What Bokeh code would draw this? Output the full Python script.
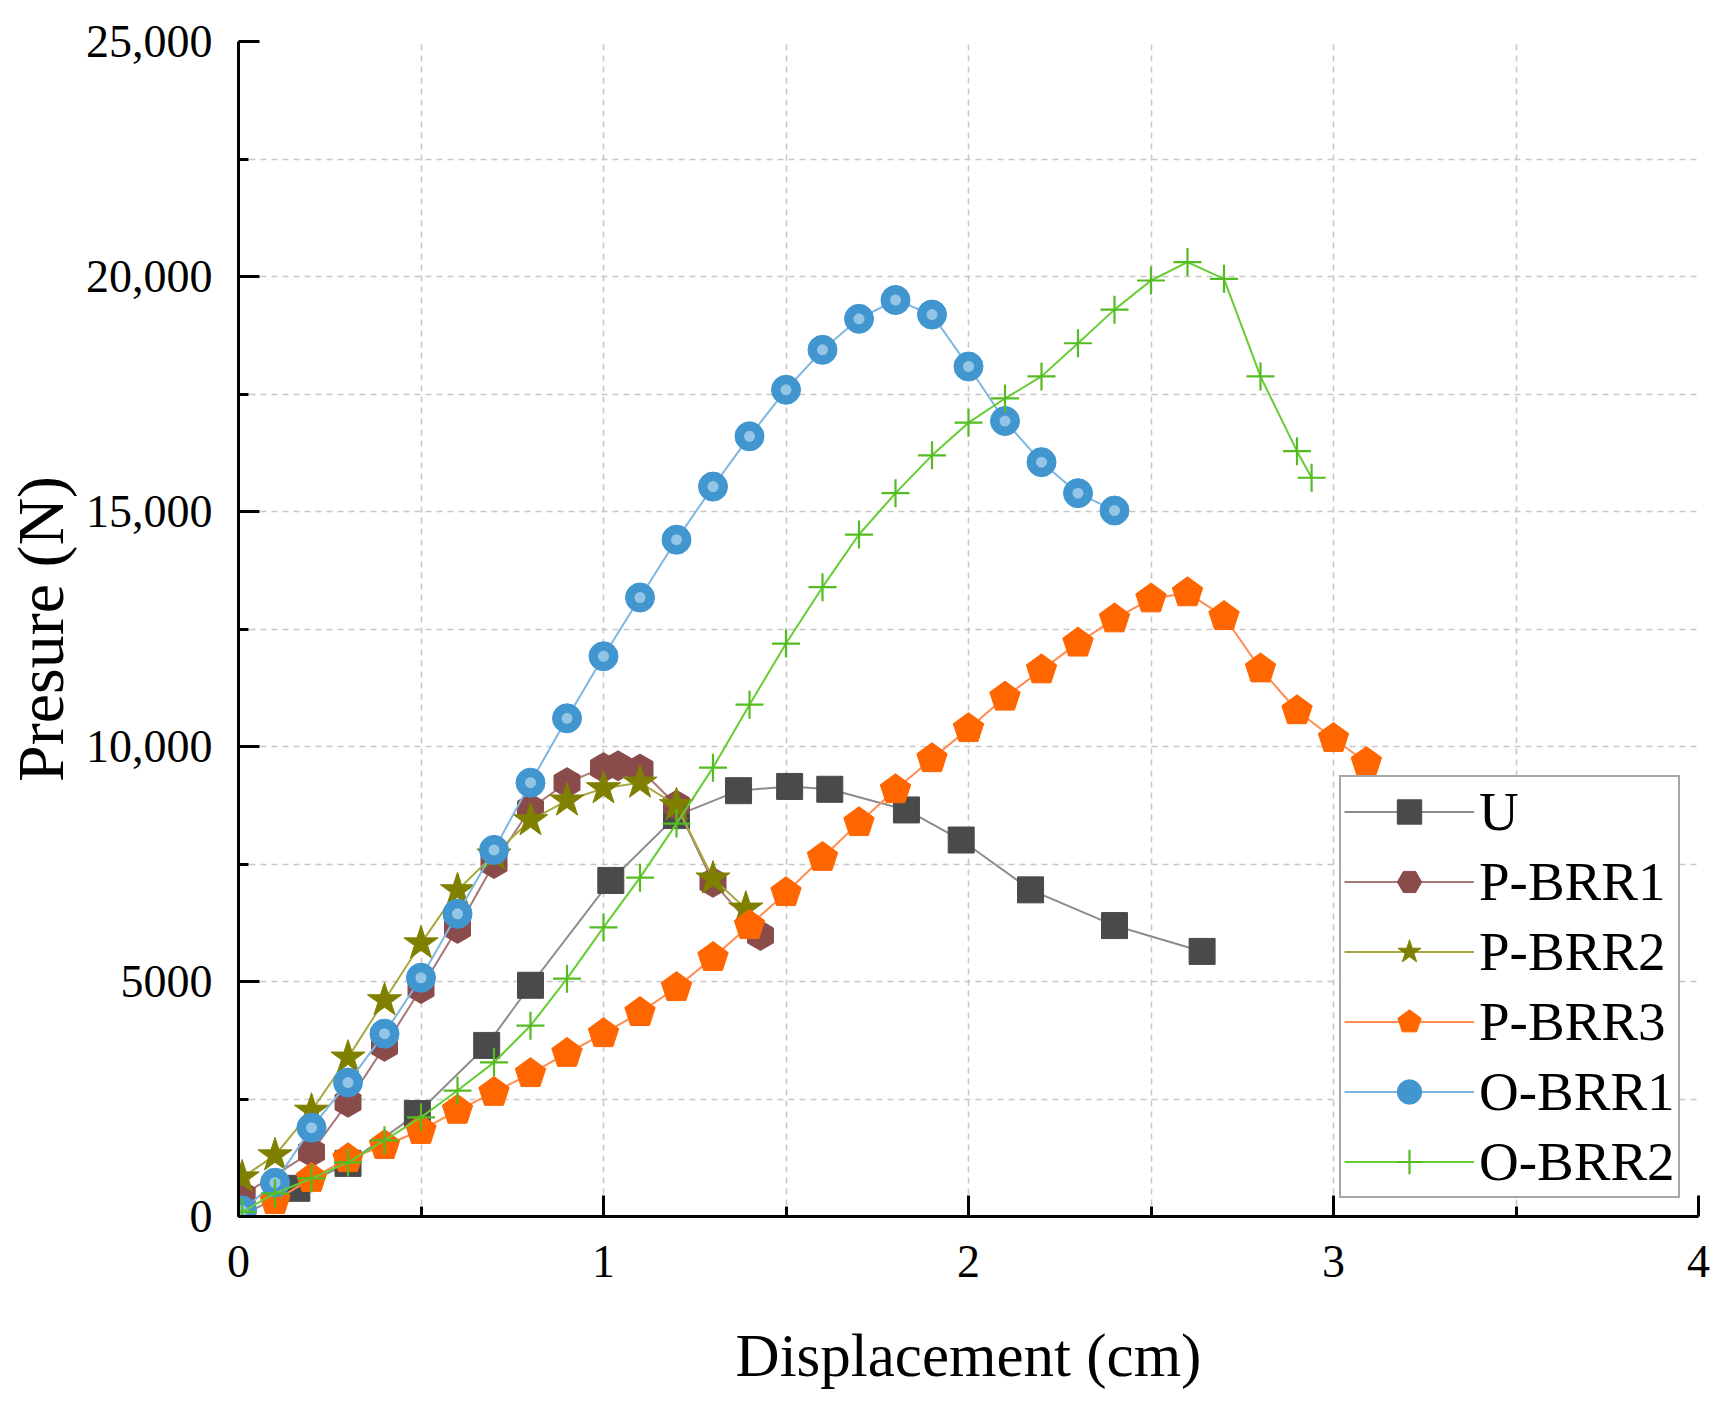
import numpy as np
from bokeh.plotting import figure
from bokeh.models import (FixedTicker, Legend, LegendItem, Range1d)
from bokeh.embed import file_html
from bokeh.resources import INLINE

# ---------------- data ----------------
u_x = [0, 0.16, 0.30, 0.49, 0.68, 0.80, 1.02, 1.20, 1.37, 1.51, 1.62, 1.83, 1.98, 2.17, 2.40, 2.64]
u_y = [0, 600, 1130, 2190, 3640, 4920, 7150, 8530, 9060, 9150, 9090, 8650, 8010, 6950, 6190, 5640]

p1_x = [0.01, 0.2, 0.3, 0.4, 0.5, 0.6, 0.7, 0.8, 0.9, 1.0, 1.04, 1.1, 1.2, 1.3, 1.43]
p1_y = [450, 1370, 2430, 3620, 4850, 6130, 7510, 8680, 9230, 9550, 9590, 9520, 8750, 7110, 5980]

p2_x = [0.01, 0.1, 0.2, 0.3, 0.4, 0.5, 0.6, 0.7, 0.8, 0.9, 1.0, 1.1, 1.2, 1.3, 1.39]
p2_y = [830, 1300, 2250, 3380, 4600, 5810, 6940, 7700, 8430, 8850, 9110, 9230, 8750, 7190, 6550]

p3_x = [0.1, 0.2, 0.3, 0.4, 0.5, 0.6, 0.7, 0.8, 0.9, 1.0, 1.1, 1.2, 1.3, 1.4, 1.5, 1.6,
        1.7, 1.8, 1.9, 2.0, 2.1, 2.2, 2.3, 2.4, 2.5, 2.6, 2.7, 2.8, 2.9, 3.0, 3.09]
p3_y = [340, 810, 1230, 1510, 1830, 2260, 2640, 3040, 3470, 3890, 4340, 4870, 5510, 6190, 6890, 7640,
        8380, 9080, 9740, 10380, 11050, 11630, 12200, 12715, 13140, 13270, 12765, 11650, 10760, 10170, 9660]

o1_x = [0.01, 0.1, 0.2, 0.3, 0.4, 0.5, 0.6, 0.7, 0.8, 0.9, 1.0, 1.1, 1.2, 1.3, 1.4, 1.5,
        1.6, 1.7, 1.8, 1.9, 2.0, 2.1, 2.2, 2.3, 2.4]
o1_y = [130, 720, 1890, 2850, 3890, 5080, 6440, 7800, 9230, 10600, 11920, 13170, 14400, 15530, 16600, 17590,
        18440, 19100, 19500, 19190, 18085, 16925, 16050, 15390, 15020]

o2_x = [0.01, 0.1, 0.2, 0.3, 0.4, 0.5, 0.6, 0.7, 0.8, 0.9, 1.0, 1.1, 1.2, 1.3, 1.4, 1.5,
        1.6, 1.7, 1.8, 1.9, 2.0, 2.1, 2.2, 2.3, 2.4, 2.5, 2.6, 2.7, 2.8, 2.9, 2.94]
o2_y = [100, 490, 810, 1150, 1620, 2110, 2680, 3280, 4060, 5060, 6150, 7210, 8360, 9550, 10890, 12190,
        13390, 14510, 15390, 16195, 16890, 17405, 17875, 18580, 19295, 19915, 20306, 19950, 17873, 16284, 15718]

x_ticks = [0, 1, 2, 3, 4]
y_ticks = [0, 5000, 10000, 15000, 20000, 25000]
y_tick_labels = ["0", "5000", "10,000", "15,000", "20,000", "25,000"]

x_title = "Displacement (cm)"
y_title = "Presure (N)"

FONT = "Liberation Serif"

p = figure(frame_width=1460, frame_height=1175,
           min_border_left=236, min_border_right=12, min_border_top=41, min_border_bottom=176,
           x_range=Range1d(x_ticks[0], x_ticks[-1]), y_range=Range1d(y_ticks[0], y_ticks[-1]),
           output_backend="svg", toolbar_location=None)
p.outline_line_color = None
p.background_fill_color = "white"

# axes
x_minor = [a + (b - a) / 2 for a, b in zip(x_ticks[:-1], x_ticks[1:])]
y_minor = [a + (b - a) / 2 for a, b in zip(y_ticks[:-1], y_ticks[1:])]
p.xaxis.ticker = FixedTicker(ticks=x_ticks, minor_ticks=x_minor)
p.yaxis.ticker = FixedTicker(ticks=y_ticks, minor_ticks=y_minor)
p.yaxis.major_label_overrides = {t: l for t, l in zip(y_ticks, y_tick_labels)}
p.xaxis.major_label_overrides = {t: str(t) for t in x_ticks}

for ax in (p.xaxis[0], p.yaxis[0]):
    ax.axis_line_width = 3
    ax.axis_line_color = "black"
    ax.major_tick_line_width = 3
    ax.major_tick_line_color = "black"
    ax.minor_tick_line_width = 3
    ax.minor_tick_line_color = "black"
    ax.major_tick_in = 21
    ax.major_tick_out = 0
    ax.minor_tick_in = 10
    ax.minor_tick_out = 0
    ax.major_label_text_font = FONT
    ax.major_label_text_font_size = "46px"
    ax.major_label_text_color = "black"
    ax.axis_label_text_font = FONT
    ax.axis_label_text_font_style = "normal"
    ax.axis_label_text_color = "black"

p.xaxis.axis_label = x_title
p.yaxis.axis_label = y_title
p.xaxis.axis_label_text_font_size = "61px"
p.yaxis.axis_label_text_font_size = "66px"
p.yaxis.major_label_standoff = 26
p.xaxis.major_label_standoff = 29
p.yaxis.axis_label_standoff = 6
p.xaxis.axis_label_standoff = 42

for g in (p.xgrid[0], p.ygrid[0]):
    g.grid_line_color = "#c8c8c8"
    g.grid_line_width = 1.6
    g.grid_line_dash = "6 5"
    g.minor_grid_line_color = "#c8c8c8"
    g.minor_grid_line_width = 1.6
    g.minor_grid_line_dash = "6 5"

items = []

# U
l = p.line(u_x, u_y, line_color="#8c8c8c", line_width=2)
s = p.scatter(u_x, u_y, marker="square", size=26, fill_color="#4a4a4a", line_color="#4a4a4a")
items.append(LegendItem(label="U", renderers=[l, s]))

# P-BRR1
l = p.line(p1_x, p1_y, line_color="#a87878", line_width=2)
s = p.scatter(p1_x, p1_y, marker="hex", size=30, angle=np.pi / 6,
              fill_color="#8a4b4b", line_color="#8a4b4b")
items.append(LegendItem(label="P-BRR1", renderers=[l, s]))

# P-BRR2
l = p.line(p2_x, p2_y, line_color="#a8a840", line_width=2)
s = p.scatter(p2_x, p2_y, marker="star", size=36, fill_color="#808000", line_color="#808000")
items.append(LegendItem(label="P-BRR2", renderers=[l, s]))

# P-BRR3
l = p.line(p3_x, p3_y, line_color="#ff8c50", line_width=2)
if hasattr(p, "ngon"):
    s = p.ngon(p3_x, p3_y, radius=16, radius_units="screen", n=5, angle=0,
               fill_color="#ff6600", line_color="#ff6600")
else:
    s = p.scatter(p3_x, p3_y, marker="hex", size=30, fill_color="#ff6600", line_color="#ff6600")
items.append(LegendItem(label="P-BRR3", renderers=[l, s]))

# O-BRR1
l = p.line(o1_x, o1_y, line_color="#7fb6e0", line_width=2)
s = p.scatter(o1_x, o1_y, marker="circle", size=29, fill_color="#4196d0", line_color="#4196d0")
h = p.scatter(o1_x, o1_y, marker="circle", size=11, fill_color="#d8ecf8", fill_alpha=0.55, line_color=None)
items.append(LegendItem(label="O-BRR1", renderers=[l, s]))

# O-BRR2
l = p.line(o2_x, o2_y, line_color="#66cc33", line_width=2)
s = p.scatter(o2_x, o2_y, marker="cross", size=28, line_color="#55bb22", line_width=2.2)
items.append(LegendItem(label="O-BRR2", renderers=[l, s]))

legend = Legend(items=items, location=(1101, 18), margin=0,
                padding=3, spacing=7, label_height=61, glyph_height=61, glyph_width=130,
                label_standoff=5, label_width=195,
                label_text_font=FONT, label_text_font_size="55px", label_text_color="black",
                border_line_color="#4d4d4d", border_line_width=2.5,
                background_fill_color="white", background_fill_alpha=1.0)
p.add_layout(legend, "center")

open("out.html", "w").write(file_html(p, INLINE))
